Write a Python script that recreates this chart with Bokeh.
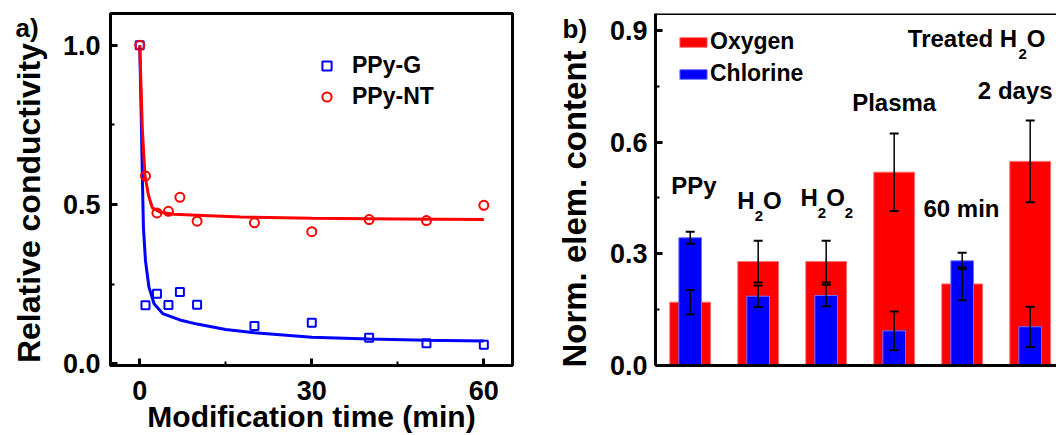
import numpy as np
from bokeh.plotting import figure
from bokeh.layouts import row
from bokeh.models import (ColumnDataSource, FixedTicker, Legend, LegendItem, Label,
                          Whisker, TeeHead, Span, Range1d, PrintfTickFormatter)
from bokeh.embed import file_html
from bokeh.resources import INLINE

# ---------------- Panel a) data ----------------
time_min = [0, 1, 3, 5, 7, 10, 20, 30, 40, 50, 60]
ppy_g = [1.0, 0.184, 0.220, 0.185, 0.226, 0.186, 0.119, 0.129, 0.082, 0.065, 0.060]
ppy_nt = [1.0, 0.590, 0.474, 0.479, 0.523, 0.448, 0.443, 0.415, 0.453, 0.450, 0.498]

fit_g_x = [0, 0.3, 0.46, 0.64, 1.0, 1.6, 2.5, 4, 7, 10, 15, 20, 30, 40, 50, 60]
fit_g_y = [1.0, 0.74, 0.583, 0.428, 0.324, 0.241, 0.189, 0.158, 0.138, 0.125, 0.108,
           0.098, 0.084, 0.078, 0.074, 0.072]
fit_nt_x = [0, 0.45, 0.9, 1.5, 2.2, 3.6, 6, 10, 17.6, 30, 45, 60]
fit_nt_y = [1.0, 0.738, 0.593, 0.531, 0.490, 0.476, 0.470, 0.467, 0.461, 0.457, 0.455, 0.453]

x_ticks_a = [0, 30, 60]
y_ticks_a = [0.0, 0.5, 1.0]

# ---------------- Panel b) data ----------------
samples = ["PPy", "H2O", "H2O2", "Plasma", "60 min", "Treated H2O 2 days"]
oxygen = [0.170, 0.279, 0.279, 0.519, 0.219, 0.548]
oxygen_err = [0.033, 0.056, 0.056, 0.104, 0.044, 0.110]
chlorine = [0.343, 0.186, 0.188, 0.093, 0.281, 0.104]
chlorine_err = [0.016, 0.029, 0.029, 0.052, 0.022, 0.054]
y_ticks_b = [0.0, 0.3, 0.6, 0.9]

FONT = "Liberation Sans"
RED = "#FF0000"
BLUE = "#0000FF"


def style_axis(ax, tick_fs):
    ax.axis_line_width = 3
    ax.axis_line_color = "black"
    ax.major_tick_in = 7
    ax.major_tick_out = 0
    ax.major_tick_line_width = 3
    ax.minor_tick_in = 4
    ax.minor_tick_out = 0
    ax.minor_tick_line_width = 2
    ax.major_label_text_font = FONT
    ax.major_label_text_font_style = "bold"
    ax.major_label_text_font_size = tick_fs
    ax.major_label_text_color = "black"


def side_label(text, x, y, size, angle=0, align="center"):
    # absolute canvas position (text centre), placed in a side panel so the frame does not clip it
    return Label(x=x, y=y, x_units="canvas", y_units="canvas", text=text, angle=angle,
                 angle_units="deg", text_font=FONT, text_font_style="bold",
                 text_font_size=size, text_baseline="middle", text_align=align,
                 text_color="black")


# ================= Figure a =================
p1 = figure(width=520, height=435, x_range=Range1d(-5.1, 65.0), y_range=Range1d(-0.005, 1.1),
            output_backend="svg", toolbar_location=None,
            min_border_left=110, min_border_right=8, min_border_top=13, min_border_bottom=69)
p1.grid.visible = False
p1.outline_line_color = "black"
p1.outline_line_width = 3
p1.background_fill_color = "white"
p1.border_fill_color = "white"

p1.line(fit_g_x, fit_g_y, line_color=BLUE, line_width=3)
p1.line(fit_nt_x, fit_nt_y, line_color=RED, line_width=3)
sq = p1.scatter(time_min, ppy_g, marker="square", size=8, line_color=BLUE, line_width=2, fill_color=None)
ci = p1.scatter(time_min, ppy_nt, marker="circle", size=9, line_color=RED, line_width=2, fill_color=None)

xa = p1.xaxis[0]
style_axis(xa, "27px")
xa.ticker = FixedTicker(ticks=x_ticks_a, minor_ticks=[15, 45])
xa.major_label_standoff = 15

ya = p1.yaxis[0]
style_axis(ya, "27px")
ya.ticker = FixedTicker(ticks=y_ticks_a, minor_ticks=[0.25, 0.75])
ya.formatter = PrintfTickFormatter(format="%.1f")
ya.major_label_standoff = 10

leg1 = Legend(items=[LegendItem(label="PPy-G", renderers=[sq]),
                     LegendItem(label="PPy-NT", renderers=[ci])],
              location=(205, 255), orientation="vertical",
              glyph_width=23, glyph_height=23, label_height=23, label_standoff=14,
              spacing=4, padding=0, margin=0, border_line_color=None,
              background_fill_alpha=0, label_text_font=FONT, label_text_font_style="bold",
              label_text_font_size="23px", label_text_color="black")
p1.add_layout(leg1)

p1.add_layout(side_label("Relative conductivity", 28, 202.5, "32px", angle=90), "left")
p1.add_layout(side_label("a)", 15, 27.5, "26px", align="left"), "left")
p1.add_layout(side_label("Modification time (min)", 311, 416, "30px"), "below")

# ================= Figure b =================
xpos = list(range(1, len(samples) + 1))
src = ColumnDataSource(dict(
    x=xpos, oxygen=oxygen, chlorine=chlorine,
    o_up=[v + e for v, e in zip(oxygen, oxygen_err)],
    o_lo=[v - e for v, e in zip(oxygen, oxygen_err)],
    c_up=[v + e for v, e in zip(chlorine, chlorine_err)],
    c_lo=[v - e for v, e in zip(chlorine, chlorine_err)],
))

p2 = figure(width=536, height=435, x_range=Range1d(0.49, 6.387), y_range=Range1d(0, 0.945),
            output_backend="svg", toolbar_location=None,
            min_border_left=135, min_border_right=0, min_border_top=12, min_border_bottom=61)
p2.grid.visible = False
p2.outline_line_color = None
p2.background_fill_color = "white"
p2.border_fill_color = "white"

red_bars = p2.vbar(x="x", top="oxygen", width=0.6, source=src, fill_color=RED,
                   line_color="#FF7070", line_width=1)
blue_bars = p2.vbar(x="x", top="chlorine", width=0.333, source=src, fill_color=BLUE,
                    line_color="#7070FF", line_width=1)

for up, lo in (("o_up", "o_lo"), ("c_up", "c_lo")):
    p2.add_layout(Whisker(source=src, base="x", upper=up, lower=lo, level="overlay",
                          line_color="black", line_width=1.5,
                          upper_head=TeeHead(size=9, line_width=2, line_color="black"),
                          lower_head=TeeHead(size=9, line_width=2, line_color="black")))

xb = p2.xaxis[0]
style_axis(xb, "26px")
xb.ticker = FixedTicker(ticks=[])
xb.major_label_text_font_size = "0px"

yb = p2.yaxis[0]
style_axis(yb, "27px")
yb.ticker = FixedTicker(ticks=y_ticks_b, minor_ticks=[0.15, 0.45, 0.75])
yb.formatter = PrintfTickFormatter(format="%.1f")
yb.major_label_standoff = 8

p2.add_layout(Span(location=0.945, dimension="width", line_color="black", line_width=3))

leg2 = Legend(items=[LegendItem(label="Oxygen", renderers=[red_bars]),
                     LegendItem(label="Chlorine", renderers=[blue_bars])],
              location=(21, 278), orientation="vertical",
              glyph_width=34, glyph_height=12, label_standoff=0, spacing=5,
              padding=0, margin=0, border_line_color=None, background_fill_alpha=0,
              label_text_font=FONT, label_text_font_style="bold",
              label_text_font_size="23px", label_text_color="black")
p2.add_layout(leg2)

p2.add_layout(side_label("Norm. elem. content", 54, 208.5, "33px", angle=90), "left")
p2.add_layout(side_label("b)", 42, 28, "26px", align="left"), "left")

# sample annotations (with subscripts); y = vertical centre of the capitals
ADV = {"H": .722, "O": .778, "2": .556, " ": .278, "T": .611, "r": .389, "e": .556,
       "a": .556, "t": .333, "d": .611, "P": .667, "y": .556, "l": .278, "s": .556,
       "m": .889, "6": .556, "0": .556, "i": .278, "n": .611}


def tw(s, size):
    return sum(ADV.get(c, 0.6) for c in s) * size


def rich_label(p, x, y, parts, size=24, sub_size=15, sub_drop=15):
    total = sum(tw(t, sub_size if sub else size) for t, sub in parts)
    off = -total / 2.0
    for t, sub in parts:
        fs = sub_size if sub else size
        p.add_layout(Label(x=x, y=y, x_offset=off, y_offset=(-sub_drop if sub else 0), text=t,
                           text_font=FONT, text_font_style="bold", text_font_size=f"{fs}px",
                           text_align="left", text_baseline="middle", text_color="black"))
        off += tw(t, fs)


rich_label(p2, 1.056, 0.4825, [("PPy", False)])
rich_label(p2, 2.02, 0.4427, [("H", False), ("2", True), ("O", False)])
rich_label(p2, 3.01, 0.450, [("H", False), ("2", True), ("O", False), ("2", True)])
rich_label(p2, 4.0, 0.7053, [("Plasma", False)])
rich_label(p2, 4.99, 0.4223, [("60 min", False)])
rich_label(p2, 5.213, 0.8777, [("Treated H", False), ("2", True), ("O", False)])
rich_label(p2, 5.78, 0.739, [("2 days", False)])

layout = row(p1, p2)
open("out.html", "w").write(file_html(layout, INLINE, title="chart"))
